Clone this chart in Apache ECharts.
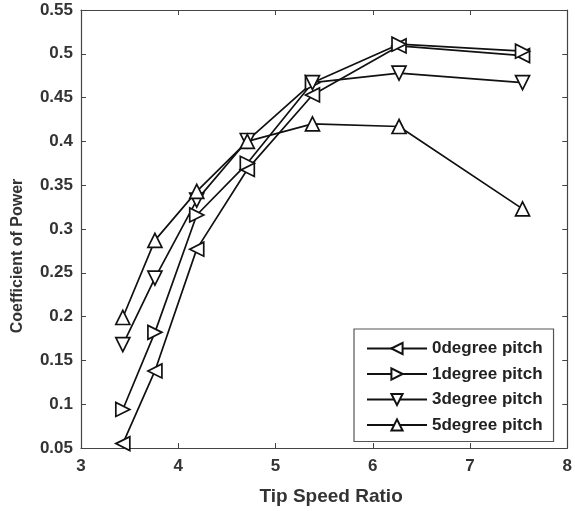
<!DOCTYPE html>
<html>
<head>
<meta charset="utf-8">
<script src="https://cdn.jsdelivr.net/npm/echarts@6/dist/echarts.min.js"></script>
<style>
  html, body { margin: 0; padding: 0; background: #fff; }
  #chart { width: 575px; height: 511px; }
</style>
</head>
<body>
<div id="chart"></div>
<script>
// tip speed ratio (shared by all runs)
var tsr = [3.43, 3.76, 4.19, 4.71, 5.38, 6.27, 7.54]

var pitch0 = [0.055, 0.138, 0.277, 0.368, 0.453, 0.509, 0.498]
var pitch1 = [0.094, 0.182, 0.316, 0.375, 0.467, 0.511, 0.503]
var pitch3 = [0.168, 0.244, 0.333, 0.401, 0.467, 0.478, 0.467]
var pitch5 = [0.199, 0.287, 0.343, 0.400, 0.420, 0.417, 0.323]

var seriesNames = ['0degree pitch', '1degree pitch', '3degree pitch', '5degree pitch']

var triLeft = 'path://M0,5 L9,0 L9,10 Z'
var triRight = 'path://M9,5 L0,0 L0,10 Z'
var triDown = 'path://M5,9 L0,0 L10,0 Z'
var triUp = 'path://M5,0 L0,9 L10,9 Z'

var font = 'Liberation Sans, Arial, sans-serif'

function pairs (ys) {
  return tsr.map(function (x, i) { return [x, ys[i]] })
}

function mkSeries (name, ys, sym) {
  return {
    name: name,
    type: 'line',
    data: pairs(ys),
    symbol: sym,
    symbolSize: 14,
    showAllSymbol: true,
    lineStyle: { color: '#111', width: 1.7 },
    itemStyle: { color: '#fff', borderColor: '#111', borderWidth: 1.7 },
    emphasis: { disabled: true },
    z: 3
  }
}

var chart = echarts.init(document.getElementById('chart'))

var tickLabel = { color: '#333', fontSize: 17, fontWeight: 'bold', fontFamily: font }
var axisLine = { show: true, lineStyle: { color: '#444', width: 1.2 } }
var tick = { show: true, inside: true, length: 5, lineStyle: { color: '#444' } }

var option = {
  animation: false,
  backgroundColor: '#fff',
  grid: { left: 81, right: 6, top: 10, bottom: 62 },
  legend: {
    data: seriesNames,
    orient: 'vertical',
    left: 354,
    top: 329,
    padding: [11, 11, 8, 12],
    itemWidth: 60,
    itemHeight: 14,
    itemGap: 8.5,
    borderColor: '#555',
    borderWidth: 1.2,
    backgroundColor: '#fff',
    textStyle: { color: '#222', fontSize: 17, fontWeight: 'bold', fontFamily: font }
  },
  xAxis: [
    {
      type: 'value', min: 3, max: 8, interval: 1,
      name: 'Tip Speed Ratio', nameLocation: 'middle', nameGap: 39,
      nameTextStyle: { color: '#333', fontSize: 19, fontWeight: 'bold', fontFamily: font, padding: [0, 0, 0, 14] },
      axisLine: axisLine, axisTick: tick, splitLine: { show: false },
      axisLabel: Object.assign({ margin: 10 }, tickLabel)
    },
    {
      type: 'value', min: 3, max: 8, interval: 1, position: 'top',
      axisLine: axisLine, axisTick: tick, splitLine: { show: false },
      axisLabel: { show: false }
    }
  ],
  yAxis: [
    {
      type: 'value', min: 0.05, max: 0.55, interval: 0.05,
      name: 'Coefficient of Power', nameLocation: 'middle', nameGap: 55,
      nameTextStyle: { color: '#333', fontSize: 16, fontWeight: 'bold', fontFamily: font, padding: [0, 54, 0, 0] },
      axisLine: axisLine, axisTick: tick, splitLine: { show: false },
      axisLabel: Object.assign({ margin: 8, formatter: function (v) { return String(+v.toFixed(2)) } }, tickLabel)
    },
    {
      type: 'value', min: 0.05, max: 0.55, interval: 0.05, position: 'right',
      axisLine: axisLine, axisTick: tick, splitLine: { show: false },
      axisLabel: { show: false }
    }
  ],
  series: [
    mkSeries(seriesNames[0], pitch0, triLeft),
    mkSeries(seriesNames[1], pitch1, triRight),
    mkSeries(seriesNames[2], pitch3, triDown),
    mkSeries(seriesNames[3], pitch5, triUp)
  ]
}

chart.setOption(option)
</script>
</body>
</html>
